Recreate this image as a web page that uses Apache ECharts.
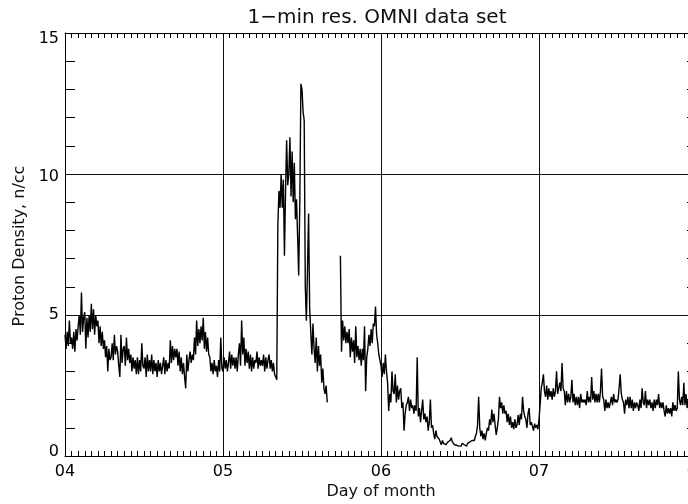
<!DOCTYPE html>
<html>
<head>
<meta charset="utf-8">
<script src="https://cdn.jsdelivr.net/npm/echarts@6/dist/echarts.min.js"></script>
<style>
  html, body { margin: 0; padding: 0; background: #fff; }
  #chart { width: 688px; height: 504px; }
</style>
</head>
<body>
<div id="chart"></div>
<script>
// Proton density (n/cc), one value every 10 minutes, six per row = one hour.
const day04Density = [
  4.3, 3.8, 4.4, 3.9, 4.8, 4.0,
  4.2, 3.8, 4.4, 3.7, 4.5, 4.1,
  4.6, 5.0, 4.3, 5.8, 4.4, 4.9,
  5.1, 3.8, 4.9, 4.2, 5.0, 4.4,
  5.4, 4.5, 5.2, 4.3, 5.0, 4.6,
  4.8, 4.0, 4.6, 3.9, 4.4, 3.8,
  4.1, 3.5, 3.9, 3.0, 3.8, 3.4,
  3.5, 4.0, 3.4, 4.3, 3.6, 3.9,
  3.7, 3.2, 2.8, 4.3, 3.3, 3.8,
  3.9, 3.2, 4.2, 3.4, 3.8, 3.3,
  3.6, 3.0, 3.5, 3.1, 3.4, 2.9,
  3.5, 2.9, 3.4, 3.0, 4.0, 3.2,
  3.1, 3.5, 2.8, 3.6, 3.0, 3.4,
  3.0, 3.6, 2.9, 3.4, 3.0, 3.3,
  2.8, 3.4, 3.0, 3.3, 2.9, 3.2,
  3.5, 2.9, 3.4, 3.0, 3.3, 3.1,
  4.1, 3.3, 3.9, 3.4, 3.8, 3.5,
  3.8, 3.2, 3.7, 3.0, 3.5, 2.9,
  3.3, 2.8, 2.4, 3.6, 3.0, 3.4,
  3.7, 3.3, 3.6, 3.4, 4.2, 3.6,
  4.8, 3.9, 4.5, 4.0, 4.6, 4.1,
  4.9, 3.8, 4.4, 3.7, 4.2, 3.6,
  3.5, 3.0, 3.3, 2.9, 3.4, 3.0,
  3.2, 2.8, 3.4, 3.0, 4.2, 3.1
];
const day05Density = [
  3.0, 3.5, 3.1, 3.4, 3.0, 3.3,
  3.7, 3.1, 3.6, 3.2, 3.5, 3.1,
  3.5, 3.0, 3.6, 4.0, 3.2, 4.8,
  3.6, 4.2, 3.2, 3.8, 3.3, 3.7,
  3.1, 3.6, 3.0, 3.5, 3.1, 3.4,
  3.3, 3.7, 3.1, 3.5, 3.2, 3.4,
  3.2, 3.6, 3.0, 3.5, 3.1, 3.4,
  3.6, 3.1, 3.4, 3.0, 3.3, 2.9,
  2.8, 2.7, 8.2, 9.4, 8.8, 10.0,
  8.8, 9.8, 7.1, 9.4, 11.2, 9.6,
  10.0, 11.3, 9.2, 10.8, 9.0, 10.4,
  8.4, 9.1, 7.8, 6.4, 9.0, 13.2,
  13.0, 12.2, 11.9, 6.0, 4.8, 6.6,
  8.6, 5.2, 4.4, 3.6, 4.7, 3.8,
  3.3, 4.2, 3.0, 3.9, 3.2, 3.6,
  2.6, 3.1, 2.4, 2.2, 2.5, 1.9,
  null, null, null, null, null, null,
  null, null, null, null, null, 7.1,
  3.7, 4.8, 4.1, 4.6, 4.0, 4.4,
  4.0, 4.5, 3.5, 4.2, 3.7, 4.1,
  3.3, 4.6, 3.5, 3.9, 3.4, 3.8,
  3.2, 3.8, 3.4, 4.6, 2.3, 3.5,
  3.8, 4.3, 3.9, 4.5, 4.0, 4.7,
  4.6, 5.3, 4.3, 4.0, 3.6, 3.4
];
const day06Density = [
  3.2, 2.8, 3.3, 2.9, 3.6, 3.0,
  2.6, 1.6, 2.2, 1.9, 3.0, 2.3,
  2.2, 2.9, 1.9, 2.5, 2.0, 2.3,
  2.4, 1.7, 1.9, 0.9, 1.5, 1.8,
  1.9, 2.1, 1.6, 2.0, 1.7, 1.8,
  1.5, 1.8, 1.6, 3.5, 1.4, 1.7,
  1.2, 1.6, 2.0, 1.3, 1.5, 1.2,
  1.4, 0.9, 1.2, 2.0, 1.0, 1.1,
  0.8, 0.6, 0.9, 0.7, 0.75, 0.6,
  0.5, 0.4, 0.55, 0.45, 0.5, 0.4,
  0.4, 0.5, 0.45, 0.55, 0.65, 0.5,
  0.5, 0.4, 0.45, 0.38, 0.42, 0.35,
  0.4, 0.35, 0.45, 0.5, 0.4, 0.38,
  0.35, 0.45, 0.4, 0.5, 0.45, 0.55,
  0.6, 0.55, 0.7, 0.8, 1.1, 2.1,
  1.0, 0.7, 0.9, 0.6, 0.8, 0.55,
  0.8, 1.0, 0.9, 1.3, 1.1, 1.65,
  1.2, 1.5, 1.1, 0.75, 1.0, 1.3,
  2.1, 1.7, 1.9, 1.5, 1.8, 1.5,
  1.6, 1.2, 1.5, 1.1, 1.4, 1.0,
  1.2, 0.95, 1.3, 1.0, 1.1, 1.45,
  1.1, 1.5, 1.3, 2.1, 1.6, 1.4,
  1.3, 1.0, 1.5, 1.7, 1.1, 1.2,
  1.2, 0.9, 1.15, 1.0, 1.1, 0.95
];
const day07Density = [
  1.3, 1.8, 2.4, 2.6, 2.9, 2.3,
  2.1, 2.5, 2.0, 2.4, 2.1, 2.3,
  2.0, 2.4, 2.1, 2.3, 3.0, 2.2,
  2.2, 2.6, 2.3, 3.3, 2.4, 2.3,
  1.8, 2.3, 1.9, 2.2, 1.9, 2.1,
  2.7, 1.9, 2.2, 1.8, 2.1, 1.8,
  2.1, 1.7, 2.2, 1.9, 2.0, 1.9,
  2.0, 1.8, 2.3, 1.9, 2.1, 1.9,
  2.8, 2.0, 2.3, 1.9, 2.2, 1.9,
  2.2, 1.9, 2.3, 3.1, 2.1, 2.0,
  1.6, 2.0, 1.7, 1.9, 1.7, 1.9,
  2.1, 1.8, 2.2, 1.9, 2.0, 1.9,
  2.0, 2.4, 2.9, 2.2, 2.0, 1.9,
  1.5, 2.0, 1.8, 2.1, 1.7, 2.1,
  1.7, 2.0, 1.6, 1.9, 1.7, 1.9,
  1.8, 1.6, 2.0, 1.7, 2.4, 1.9,
  1.8, 2.3, 1.7, 2.0, 1.8, 2.0,
  1.7, 1.9, 1.6, 2.0, 1.7, 2.0,
  1.8, 2.2, 1.7, 1.9, 1.7, 1.9,
  1.6, 1.4, 1.8, 1.5, 1.7, 1.5,
  1.7, 1.4, 1.9, 1.6, 1.8, 1.6,
  1.7, 3.0, 2.0, 1.8, 2.1, 1.8,
  2.6, 1.8, 2.2, 1.7, 2.0, 1.8,
  1.9, 2.1, 1.8, 2.0, 1.9, 2.0
];

const dayLabels = ['04', '05', '06', '07', '08'];
const yTickLabels = ['0', '5', '10', '15'];
const stepHours = 1 / 6;

const density = [].concat(day04Density, day05Density, day06Density, day07Density);
const seriesData = density.map((v, i) => [i * stepHours, v]);

const FONT = 'DejaVu Sans';
const INK = '#000';

// Small vertical nudges for the density tick labels
const yLabelRich = {
  t0:  { fontFamily: FONT, fontSize: 16, color: INK, padding: [0, 0, 8, 0] },
  t5:  { fontFamily: FONT, fontSize: 16, color: INK },
  t10: { fontFamily: FONT, fontSize: 16, color: INK, padding: [6, 0, 0, 0] },
  t15: { fontFamily: FONT, fontSize: 16, color: INK, padding: [12, 0, 0, 0] }
};

function xAxisCfg(position, withLabels) {
  return {
    type: 'value',
    position: position,
    min: 0,
    max: 96,
    interval: 24,
    axisLine: { show: true, onZero: false, lineStyle: { color: INK, width: 1 } },
    axisTick: { show: true, inside: true, length: 5, lineStyle: { color: INK, width: 1 } },
    minorTick: { show: true, splitNumber: 24, length: 5, lineStyle: { color: INK, width: 1 } },
    axisLabel: withLabels ? {
      show: true,
      margin: 8,
      fontFamily: FONT,
      fontSize: 16,
      color: INK,
      formatter: v => dayLabels[Math.round(v / 24)]
    } : { show: false },
    splitLine: { show: withLabels, lineStyle: { color: '#111', width: 1 } },
    minorSplitLine: { show: false }
  };
}

function yAxisCfg(position, withLabels) {
  return {
    type: 'value',
    position: position,
    min: 0,
    max: 15,
    interval: 5,
    axisLine: { show: true, onZero: false, lineStyle: { color: INK, width: 1 } },
    axisTick: { show: false, inside: true },
    minorTick: { show: true, splitNumber: 5, length: 10, lineStyle: { color: INK, width: 1 } },
    axisLabel: withLabels ? {
      show: true,
      margin: 6,
      formatter: v => '{t' + v + '|' + yTickLabels[v / 5] + '}',
      rich: yLabelRich
    } : { show: false },
    splitLine: { show: withLabels, lineStyle: { color: '#111', width: 1 } },
    minorSplitLine: { show: false }
  };
}

const chart = echarts.init(document.getElementById('chart'), null, { renderer: 'canvas' });

const option = {
  animation: false,
  backgroundColor: '#fff',
  grid: { left: 65, top: 33, width: 632, height: 423, containLabel: false, outerBoundsMode: 'none' },
  xAxis: [xAxisCfg('bottom', true), xAxisCfg('top', false)],
  yAxis: [yAxisCfg('left', true), yAxisCfg('right', false)],
  graphic: [
    {
      type: 'text', x: 377, y: 18,
      style: {
        text: '1\u2212min res. OMNI data set',
        fontFamily: FONT, fontSize: 20, fill: '#111',
        textAlign: 'center', textVerticalAlign: 'middle'
      }
    },
    {
      type: 'text', x: 20, y: 246, rotation: Math.PI / 2,
      style: {
        text: 'Proton Density, n/cc',
        fontFamily: FONT, fontSize: 16, fill: '#111',
        textAlign: 'center', textVerticalAlign: 'middle'
      }
    },
    {
      type: 'text', x: 381, y: 492,
      style: {
        text: 'Day of month',
        fontFamily: FONT, fontSize: 16, fill: '#111',
        textAlign: 'center', textVerticalAlign: 'middle'
      }
    }
  ],
  series: [{
    type: 'line',
    xAxisIndex: 0,
    yAxisIndex: 0,
    data: seriesData,
    showSymbol: false,
    symbol: 'none',
    connectNulls: false,
    sampling: null,
    clip: true,
    lineStyle: { color: INK, width: 1.4 },
    emphasis: { disabled: true }
  }]
};

chart.setOption(option);
</script>
</body>
</html>
